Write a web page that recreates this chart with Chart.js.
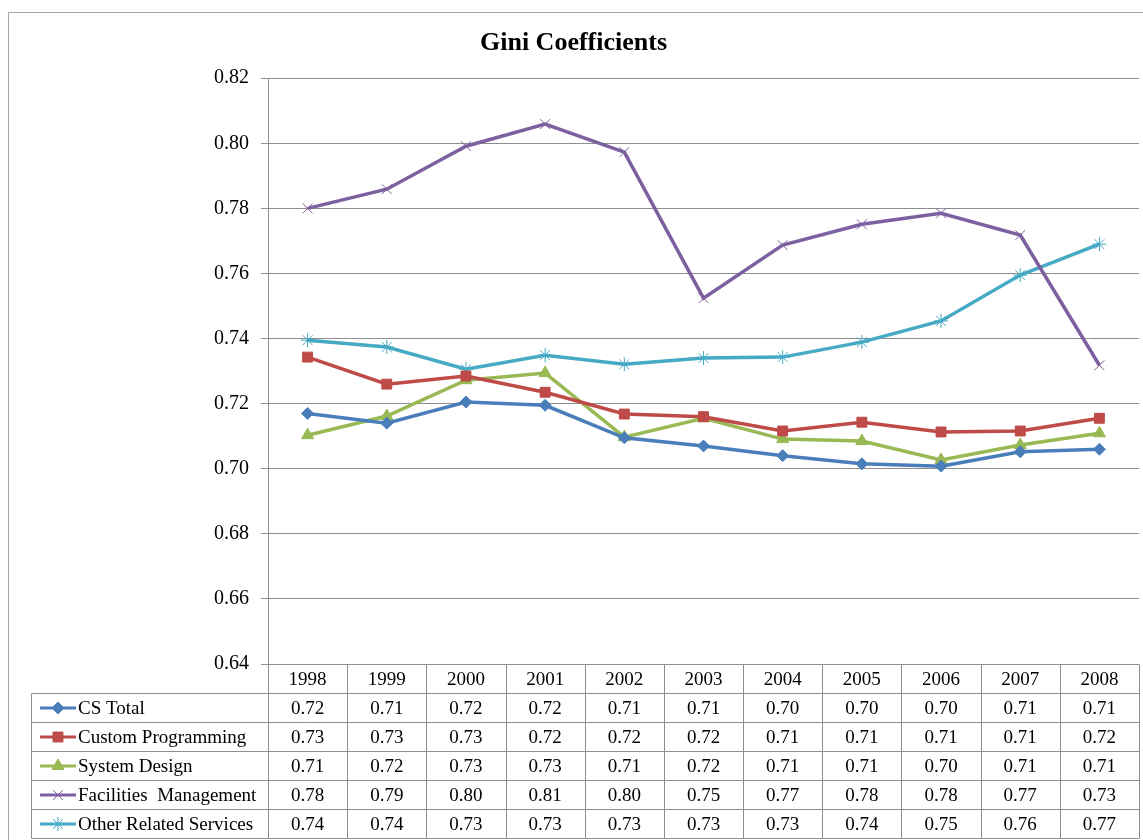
<!DOCTYPE html>
<html>
<head>
<meta charset="utf-8">
<title>Gini Coefficients</title>
<script src="https://cdn.jsdelivr.net/npm/chart.js"></script>
<style>
  html, body { margin: 0; background: #fff; overflow: hidden; }
  #wrap { position: absolute; left: 0; top: 0; width: 1147px; height: 840px; }
</style>
</head>
<body>
<div id="wrap"><canvas id="giniChart"></canvas></div>
<script>
// du lieu doc tu hinh
const years = ["1998", "1999", "2000", "2001", "2002", "2003", "2004", "2005", "2006", "2007", "2008"];
const csTotal = [0.717, 0.714, 0.7205, 0.7195, 0.7095, 0.707, 0.704, 0.7015, 0.7008, 0.7052, 0.706];
const customProgramming = [0.7343, 0.726, 0.7285, 0.7235, 0.7168, 0.716, 0.7116, 0.7143, 0.7113, 0.7116, 0.7155];
const systemDesign = [0.7103, 0.7162, 0.7272, 0.7294, 0.7097, 0.7155, 0.7091, 0.7085, 0.7027, 0.7073, 0.7109];
const facilitiesManagement = [0.78, 0.7859, 0.7991, 0.8059, 0.7973, 0.7524, 0.7687, 0.7751, 0.7785, 0.7718, 0.7318];
const otherRelated = [0.7395, 0.7374, 0.7306, 0.7349, 0.7321, 0.734, 0.7343, 0.7389, 0.7454, 0.7595, 0.769];
const yTicks = [0.64, 0.66, 0.68, 0.70, 0.72, 0.74, 0.76, 0.78, 0.80, 0.82];

const FONT = "'Liberation Serif', 'Times New Roman', serif";
const LINE_GRAY = "#8e8e8e";

// ve khung ngoai
const framePlugin = {
  id: "frame",
  beforeDraw(chart) {
    const ctx = chart.ctx;
    ctx.save();
    ctx.strokeStyle = "#a6a6a6";
    ctx.lineWidth = 1;
    ctx.strokeRect(8.5, 12.5, 1200, 900);
    ctx.restore();
  },
};

// bang du lieu duoi bieu do
const dataTablePlugin = {
  id: "dataTable",
  afterDraw(chart) {
    const ctx = chart.ctx;
    const xs = chart.scales.x;
    const area = chart.chartArea;
    const rowH = 29;
    const top = Math.round(area.bottom) + 0.5;
    const step = xs.getPixelForValue(1) - xs.getPixelForValue(0);
    const leftX = 31.5;
    const sets = chart.data.datasets;
    const bottom = top + rowH * (sets.length + 1);

    ctx.save();
    ctx.strokeStyle = LINE_GRAY;
    ctx.lineWidth = 1;

    // duong ngang
    for (let r = 1; r <= sets.length + 1; r++) {
      const y = top + r * rowH;
      ctx.beginPath();
      ctx.moveTo(leftX, y);
      ctx.lineTo(area.right, y);
      ctx.stroke();
    }
    // duong doc
    for (let i = 0; i <= years.length; i++) {
      const x = Math.round(xs.getPixelForValue(0) - step / 2 + i * step) + 0.5;
      ctx.beginPath();
      ctx.moveTo(x, top);
      ctx.lineTo(x, bottom);
      ctx.stroke();
    }
    ctx.beginPath();
    ctx.moveTo(leftX, top + rowH);
    ctx.lineTo(leftX, bottom);
    ctx.stroke();

    ctx.fillStyle = "#000";
    ctx.font = "19px " + FONT;
    ctx.textAlign = "center";
    ctx.textBaseline = "middle";
    years.forEach((yr, i) => {
      ctx.fillText(yr, xs.getPixelForValue(i), top + rowH / 2 + 1);
    });

    sets.forEach((ds, r) => {
      const cy = top + (r + 1) * rowH + rowH / 2;
      // o chu giai
      ctx.strokeStyle = ds.borderColor;
      ctx.lineWidth = 3;
      ctx.beginPath();
      ctx.moveTo(40, cy);
      ctx.lineTo(76, cy);
      ctx.stroke();
      const opt = chart.getDatasetMeta(r).data[0].options;
      if (Chart.helpers && Chart.helpers.drawPoint) {
        ctx.fillStyle = ds.pointBackgroundColor;
        ctx.strokeStyle = ds.borderColor;
        ctx.lineWidth = opt.borderWidth;
        Chart.helpers.drawPoint(ctx, {
          pointStyle: opt.pointStyle,
          radius: opt.radius,
          rotation: 0,
          borderWidth: opt.borderWidth,
        }, 58, cy);
      }
      ctx.fillStyle = "#000";
      ctx.textAlign = "left";
      ctx.fillText(ds.label, 78, cy + 1);
      ctx.textAlign = "center";
      ds.data.forEach((v, i) => {
        ctx.fillText(v.toFixed(2), xs.getPixelForValue(i), cy + 1);
      });
    });
    ctx.restore();
  },
};

function makeSet(label, data, color, style, radius, bw) {
  return {
    label: label,
    data: data,
    borderColor: color,
    backgroundColor: color,
    pointBackgroundColor: color,
    pointBorderColor: color,
    pointStyle: style,
    pointRadius: radius,
    pointBorderWidth: bw,
    borderWidth: 3.5,
    tension: 0,
    fill: false,
  };
}

const ctx = document.getElementById("giniChart").getContext("2d");
new Chart(ctx, {
  type: "line",
  data: {
    labels: years,
    datasets: [
      makeSet("CS Total", csTotal, "#4a7ebb", "rectRot", 6, 1),
      makeSet("Custom Programming", customProgramming, "#be4b48", "rect", 7, 1),
      makeSet("System Design", systemDesign, "#98b954", "triangle", 7, 1),
      makeSet("Facilities  Management", facilitiesManagement, "#7d60a0", "crossRot", 7, 1),
      makeSet("Other Related Services", otherRelated, "#46aac5", "star", 7, 1),
    ],
  },
  options: {
    responsive: true,
    maintainAspectRatio: false,
    animation: false,
    layout: {
      padding: { top: 0, left: 0, right: 0, bottom: 176 },
    },
    plugins: {
      legend: { display: false },
      tooltip: { enabled: false },
      title: {
        display: true,
        text: "Gini Coefficients",
        color: "#000",
        font: { family: FONT, size: 26, weight: "bold" },
        padding: { top: 28, bottom: 19 },
      },
    },
    scales: {
      x: {
        type: "category",
        offset: true,
        display: false,
      },
      y: {
        min: 0.64,
        max: 0.82,
        afterFit(scale) {
          scale.width = 268;
        },
        afterBuildTicks(scale) {
          scale.ticks = yTicks.map((v) => ({ value: v }));
        },
        ticks: {
          color: "#000",
          padding: 12,
          font: { family: FONT, size: 20 },
          callback: (v) => Number(v).toFixed(2),
        },
        grid: {
          color: LINE_GRAY,
          lineWidth: 1,
          drawTicks: true,
          tickLength: 7,
        },
        border: { color: LINE_GRAY, width: 1 },
      },
    },
  },
  plugins: [framePlugin, dataTablePlugin],
});
</script>
</body>
</html>
